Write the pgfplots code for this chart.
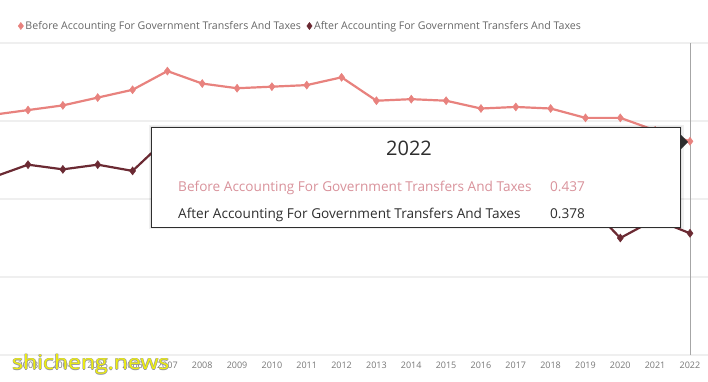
\documentclass[border=0pt]{standalone}
\usepackage{pgfplots}
\pgfplotsset{compat=1.18}
\usepackage{fontspec}
\setmainfont{Open Sans}
\definecolor{cbefore}{HTML}{E8827E}
\definecolor{cafter}{HTML}{6B2A33}
\definecolor{ttbefore}{HTML}{D9929B}
\definecolor{ttafter}{HTML}{2E2E2E}
\definecolor{ticktext}{HTML}{777777}
\definecolor{legtext}{HTML}{666666}
\definecolor{gridc}{HTML}{EFEFEF}
\definecolor{wmark}{HTML}{EEEE10}
\pgfplotstableread{
year before after
2002 0.454 0.414
2003 0.457 0.422
2004 0.460 0.419
2005 0.465 0.422
2006 0.470 0.418
2007 0.482 0.439
2008 0.474 0.432
2009 0.471 0.425
2010 0.472 0.433
2011 0.473 0.423
2012 0.478 0.413
2013 0.463 0.409
2014 0.464 0.411
2015 0.463 0.410
2016 0.458 0.402
2017 0.459 0.401
2018 0.458 0.404
2019 0.452 0.398
2020 0.452 0.375
2021 0.444 0.387
2022 0.437 0.378
}\gini
\begin{document}
\begin{tikzpicture}[x=1pt,y=1pt]
\begin{axis}[
  name=ax,
  scale only axis, width=708pt, height=312pt,
  xmin=2002.195, xmax=2022.517, ymin=0.30, ymax=0.50,
  xtick={2002,...,2022},
  xticklabels={2002,2003,2004,2005,2006,2007,2008,2009,2010,2011,2012,2013,2014,2015,2016,2017,2018,2019,2020,2021,2022},
  ytick={0.30,0.35,0.40,0.45,0.50}, yticklabels={},
  ymajorgrids, grid style={gridc, line width=1.2pt},
  axis line style={draw=none},
  major tick length=0pt,
  xticklabel style={font=\fontsize{9}{9}\selectfont, text=ticktext, yshift=-3pt},
  clip=false,
  legend columns=2,
  legend style={at={(axis description cs:0,1)}, anchor=west, xshift=15pt, yshift=17pt,
    draw=none, fill=none, font=\fontsize{10.6}{10.6}\selectfont, text=legtext,
    /tikz/every even column/.append style={column sep=4pt}},
  legend image code/.code={\draw[#1, mark size=3.5pt] plot coordinates {(0pt,0pt)};},
]
\addplot[cbefore, line width=2.2pt, mark=diamond*, mark size=4pt, mark options={fill=cbefore, draw=cbefore, line width=0.5pt}] table[x=year, y=before] {\gini};
\addlegendentry{Before Accounting For Government Transfers And Taxes}
\addplot[cafter, line width=2.2pt, mark=diamond*, mark size=4pt, mark options={fill=cafter, draw=cafter, line width=0.5pt}] table[x=year, y=after] {\gini};
\addlegendentry{After Accounting For Government Transfers And Taxes}
\draw[gray!70, line width=0.8pt] (axis cs:2022,0.30) -- (axis cs:2022,0.50);
\end{axis}
\path (ax.south west) ++(0,-27) coordinate (O);
\begin{scope}[shift={(O)}]
% tooltip
\fill[black, opacity=0.06] (149,153) rectangle (684,257);
\fill[black, opacity=0.06] (150,154) rectangle (682,256);
\draw[fill=white, draw=ttafter, line width=0.8pt] (151,155) rectangle (680,255);
\fill[ttafter] (680,248) -- (688,240) -- (680,232) -- cycle;
\node[anchor=base, font=\fontsize{20}{20}\selectfont, text=ttafter] at (409,226) {2022};
\node[anchor=base west, inner sep=0pt, font=\fontsize{13.6}{13.6}\selectfont, text=ttbefore] at (178,190) {Before Accounting For Government Transfers And Taxes};
\node[anchor=base west, inner sep=0pt, font=\fontsize{13.6}{13.6}\selectfont, text=ttbefore] at (550,190) {0.437};
\node[anchor=base west, inner sep=0pt, font=\fontsize{13.6}{13.6}\selectfont, text=ttafter] at (178,163) {After Accounting For Government Transfers And Taxes};
\node[anchor=base west, inner sep=0pt, font=\fontsize{13.6}{13.6}\selectfont, text=ttafter] at (550,163) {0.378};
% watermark
\foreach \dx/\dy in {0.6/0,-0.6/0,0/0.6,0/-0.6}{
  \node[anchor=base west, inner sep=0pt, xscale=1.15, font=\fontsize{20}{20}\selectfont, text=gray!80] at (12+\dx,12+\dy) {shicheng.news};
}
\node[anchor=base west, inner sep=0pt, xscale=1.15, font=\fontsize{20}{20}\selectfont, text=wmark] at (12,12) {shicheng.news};
\end{scope}
\pgfresetboundingbox
\path[use as bounding box] (O) rectangle ++(708,382);
\end{tikzpicture}
\end{document}
